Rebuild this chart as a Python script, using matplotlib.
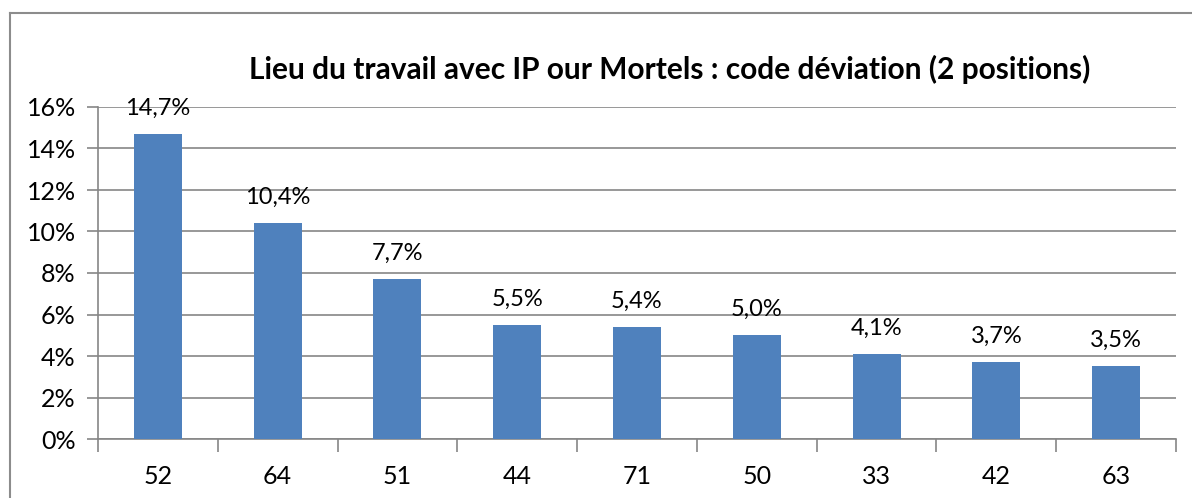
import matplotlib
matplotlib.use('Agg')
import matplotlib.pyplot as plt
from matplotlib.lines import Line2D

# Données
codes = ['52', '64', '51', '44', '71', '50', '33', '42', '63']
valeurs = [14.7, 10.4, 7.7, 5.5, 5.4, 5.0, 4.1, 3.7, 3.5]
graduations = [0, 2, 4, 6, 8, 10, 12, 14, 16]
titre = 'Lieu du travail avec IP our Mortels : code déviation (2 positions)'

W, H = 1192, 498
plt.rcParams['font.family'] = ['Lato', 'DejaVu Sans']

fig = plt.figure(figsize=(W / 100, H / 100), dpi=100)
fig.patch.set_facecolor('white')

# Cadre du graphique (gauche et haut seulement visibles)
gris_cadre = '#8c8c8c'
fig.add_artist(Line2D([10 / W, 10 / W], [0, 1 - 13 / H], transform=fig.transFigure,
                      color=gris_cadre, lw=1.5))
fig.add_artist(Line2D([10 / W, 1], [1 - 13 / H, 1 - 13 / H], transform=fig.transFigure,
                      color=gris_cadre, lw=1.5))

# Zone de tracé
x0, x1 = 98, 1176
y_top, y_bot = 107, 439
ax = fig.add_axes([x0 / W, 1 - y_bot / H, (x1 - x0) / W, (y_bot - y_top) / H])

pos = list(range(len(codes)))
ax.bar(pos, valeurs, width=0.4, color='#4F81BD', zorder=3)
ax.set_xlim(-0.5, len(codes) - 0.5)
ax.set_ylim(0, 16)

ax.set_yticks(graduations)
ax.set_yticklabels([f'{g}%' for g in graduations])
ax.yaxis.grid(True, color='#868686', lw=1.2, zorder=0)

# Graduations de l'axe X entre les catégories
ax.set_xticks([p + 0.5 for p in pos[:-1]] + [-0.5, len(codes) - 0.5], minor=False)
ax.set_xticklabels([])
ax.set_xticks(pos, minor=True)
ax.set_xticklabels(codes, minor=True)
ax.tick_params(axis='x', which='major', length=9, color='#868686', width=1.2, direction='out')
ax.tick_params(axis='x', which='minor', length=0, pad=19, labelsize=18)
ax.tick_params(axis='y', length=8, color='#868686', width=1.2, pad=8, labelsize=18)

for s in ['top', 'right']:
    ax.spines[s].set_visible(False)
for s in ['left', 'bottom']:
    ax.spines[s].set_color('#868686')
    ax.spines[s].set_linewidth(1.2)

# Étiquettes de données
for p, v in zip(pos, valeurs):
    ax.annotate(f'{v:.1f}%'.replace('.', ','), (p, v), xytext=(0, 11),
                textcoords='offset points', ha='center', va='bottom', fontsize=17)

fig.text(670 / W, 1 - 69 / H, titre, ha='center', va='center',
         fontsize=21.5, fontweight='bold')

fig.savefig('out.png', dpi=100)
